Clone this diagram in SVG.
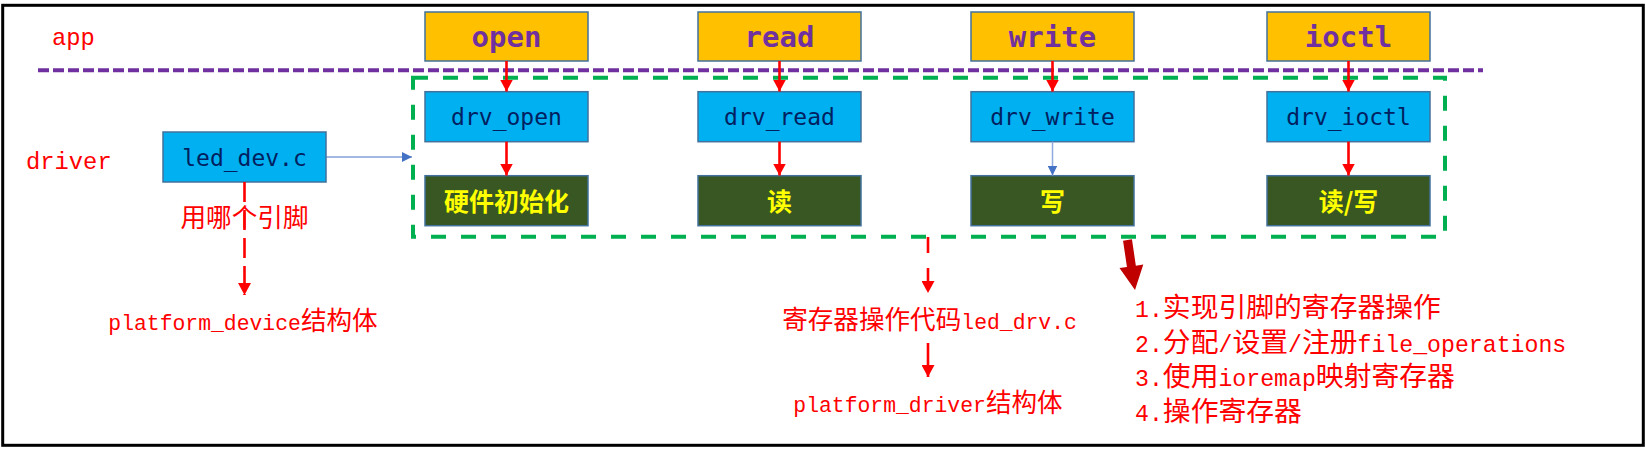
<svg xmlns="http://www.w3.org/2000/svg" width="1646" height="450" viewBox="0 0 1646 450">
<defs>
<style>
.box{stroke:#41719C;stroke-width:1.5}
.app{fill:#FFC000}
.drv{fill:#00B0F0}
.hw{fill:#385723}
.tApp{font-family:"DejaVu Sans Mono","Liberation Mono",monospace;font-weight:bold;font-size:29px;fill:#7030A0;text-anchor:middle}
.tDrv{font-family:"DejaVu Sans Mono","Liberation Mono",monospace;font-size:23px;fill:#002060;text-anchor:middle}
.tHw{font-family:"Noto Sans CJK SC",sans-serif;font-weight:bold;font-size:25px;fill:#FFFF00;text-anchor:middle}
.red{font-family:"Liberation Mono",monospace;font-size:21.4px;fill:#FF0000}
.cj{font-family:"Noto Sans CJK SC",sans-serif;font-size:25.6px}
.lst{font-family:"Liberation Mono",monospace;font-size:23.2px;fill:#FF0000}
.cjl{font-family:"Noto Sans CJK SC",sans-serif;font-size:27.8px}
.lbl{font-family:"Liberation Mono",monospace;font-size:23.8px;fill:#FF0000}
.ra{stroke:#FF0000;stroke-width:2.6;fill:none;marker-end:url(#rh)}
</style>
<marker id="rh" markerUnits="userSpaceOnUse" markerWidth="13" markerHeight="13" refX="12" refY="6.5" orient="auto">
<path d="M0,0 L12,6.5 L0,13 Z" fill="#FF0000"/>
</marker>
<marker id="bh" markerUnits="userSpaceOnUse" markerWidth="11" markerHeight="10" refX="10" refY="5" orient="auto">
<path d="M0,0 L10,5 L0,10 Z" fill="#4472C4"/>
</marker>
</defs>
<rect x="2.7" y="5.3" width="1640.6" height="440" fill="#FFFFFF" stroke="#000000" stroke-width="3"/>

<g id="layer-lines">
<line x1="38" y1="70.3" x2="1483" y2="70.3" stroke="#7030A0" stroke-width="4" stroke-dasharray="11,4"/>
<rect x="413" y="77.7" width="1032" height="159" fill="none" stroke="#00B050" stroke-width="4" stroke-dasharray="15,15"/>
</g>

<g id="label-app"><text class="lbl" x="52" y="45">app</text></g>
<g id="label-driver"><text class="lbl" x="26" y="169">driver</text></g>

<g id="open"><rect class="box app" x="425" y="12" width="163" height="49"/><text class="tApp" x="506.5" y="46.5">open</text></g>
<g id="read"><rect class="box app" x="698" y="12" width="163" height="49"/><text class="tApp" x="779.5" y="46.5">read</text></g>
<g id="write"><rect class="box app" x="971" y="12" width="163" height="49"/><text class="tApp" x="1052.5" y="46.5">write</text></g>
<g id="ioctl"><rect class="box app" x="1267" y="12" width="163" height="49"/><text class="tApp" x="1348.5" y="46.5">ioctl</text></g>

<g id="drv_open"><rect class="box drv" x="425" y="91.7" width="163" height="50"/><text class="tDrv" x="506.5" y="125">drv_open</text></g>
<g id="drv_read"><rect class="box drv" x="698" y="91.7" width="163" height="50"/><text class="tDrv" x="779.5" y="125">drv_read</text></g>
<g id="drv_write"><rect class="box drv" x="971" y="91.7" width="163" height="50"/><text class="tDrv" x="1052.5" y="125">drv_write</text></g>
<g id="drv_ioctl"><rect class="box drv" x="1267" y="91.7" width="163" height="50"/><text class="tDrv" x="1348.5" y="125">drv_ioctl</text></g>

<g id="hw_init"><rect class="box hw" x="425" y="175.7" width="163" height="50"/><text class="tHw" x="506.5" y="211">硬件初始化</text></g>
<g id="hw_read"><rect class="box hw" x="698" y="175.7" width="163" height="50"/><text class="tHw" x="779.5" y="211">读</text></g>
<g id="hw_write"><rect class="box hw" x="971" y="175.7" width="163" height="50"/><text class="tHw" x="1052.5" y="211">写</text></g>
<g id="hw_rw"><rect class="box hw" x="1267" y="175.7" width="163" height="50"/><text class="tHw" x="1348.5" y="211">读/写</text></g>

<g id="led_dev"><rect class="box drv" x="163" y="132" width="163" height="50"/><text class="tDrv" x="244.5" y="165.5">led_dev.c</text></g>

<g id="connectors">
<line class="ra" x1="506.5" y1="61" x2="506.5" y2="91.5"/>
<line class="ra" x1="779.5" y1="61" x2="779.5" y2="91.5"/>
<line class="ra" x1="1052.5" y1="61" x2="1052.5" y2="91.5"/>
<line class="ra" x1="1348.5" y1="61" x2="1348.5" y2="91.5"/>
<line class="ra" x1="506.5" y1="141.7" x2="506.5" y2="175.5"/>
<line class="ra" x1="779.5" y1="141.7" x2="779.5" y2="175.5"/>
<line x1="1052.5" y1="141.7" x2="1052.5" y2="175.5" stroke="#8FAADC" stroke-width="1.5" marker-end="url(#bh)"/>
<line class="ra" x1="1348.5" y1="141.7" x2="1348.5" y2="175.5"/>
<line x1="326" y1="157" x2="412" y2="157" stroke="#4472C4" stroke-width="1" marker-end="url(#bh)"/>
<line class="ra" x1="244.5" y1="182" x2="244.5" y2="295" stroke-dasharray="20,8"/>
<line class="ra" x1="928" y1="237" x2="928" y2="293" stroke-dasharray="16,15"/>
<line class="ra" x1="928" y1="343" x2="928" y2="377"/>
<polygon points="1123.05,240.67 1131.95,239.33 1135.85,265.63 1143.3,264.5 1135,290 1119.5,268.1 1126.95,266.97" fill="#C00000"/>
</g>

<g id="note-pin"><text class="red" x="244.5" y="227" text-anchor="middle"><tspan class="cj">用哪个引脚</tspan></text></g>
<g id="note-pdev"><text class="red" x="243" y="330" text-anchor="middle">platform_device<tspan class="cj">结构体</tspan></text></g>
<g id="note-drvc"><text class="red" x="929.5" y="329" text-anchor="middle"><tspan class="cj">寄存器操作代码</tspan>led_drv.c</text></g>
<g id="note-pdrv"><text class="red" x="928" y="412" text-anchor="middle">platform_driver<tspan class="cj">结构体</tspan></text></g>

<g id="note-list">
<text class="lst" x="1135" y="317">1.<tspan class="cjl">实现引脚的寄存器操作</tspan></text>
<text class="lst" x="1135" y="351.5">2.<tspan class="cjl">分配</tspan>/<tspan class="cjl">设置</tspan>/<tspan class="cjl">注册</tspan>file_operations</text>
<text class="lst" x="1135" y="386">3.<tspan class="cjl">使用</tspan>ioremap<tspan class="cjl">映射寄存器</tspan></text>
<text class="lst" x="1135" y="420.5">4.<tspan class="cjl">操作寄存器</tspan></text>
</g>
</svg>
